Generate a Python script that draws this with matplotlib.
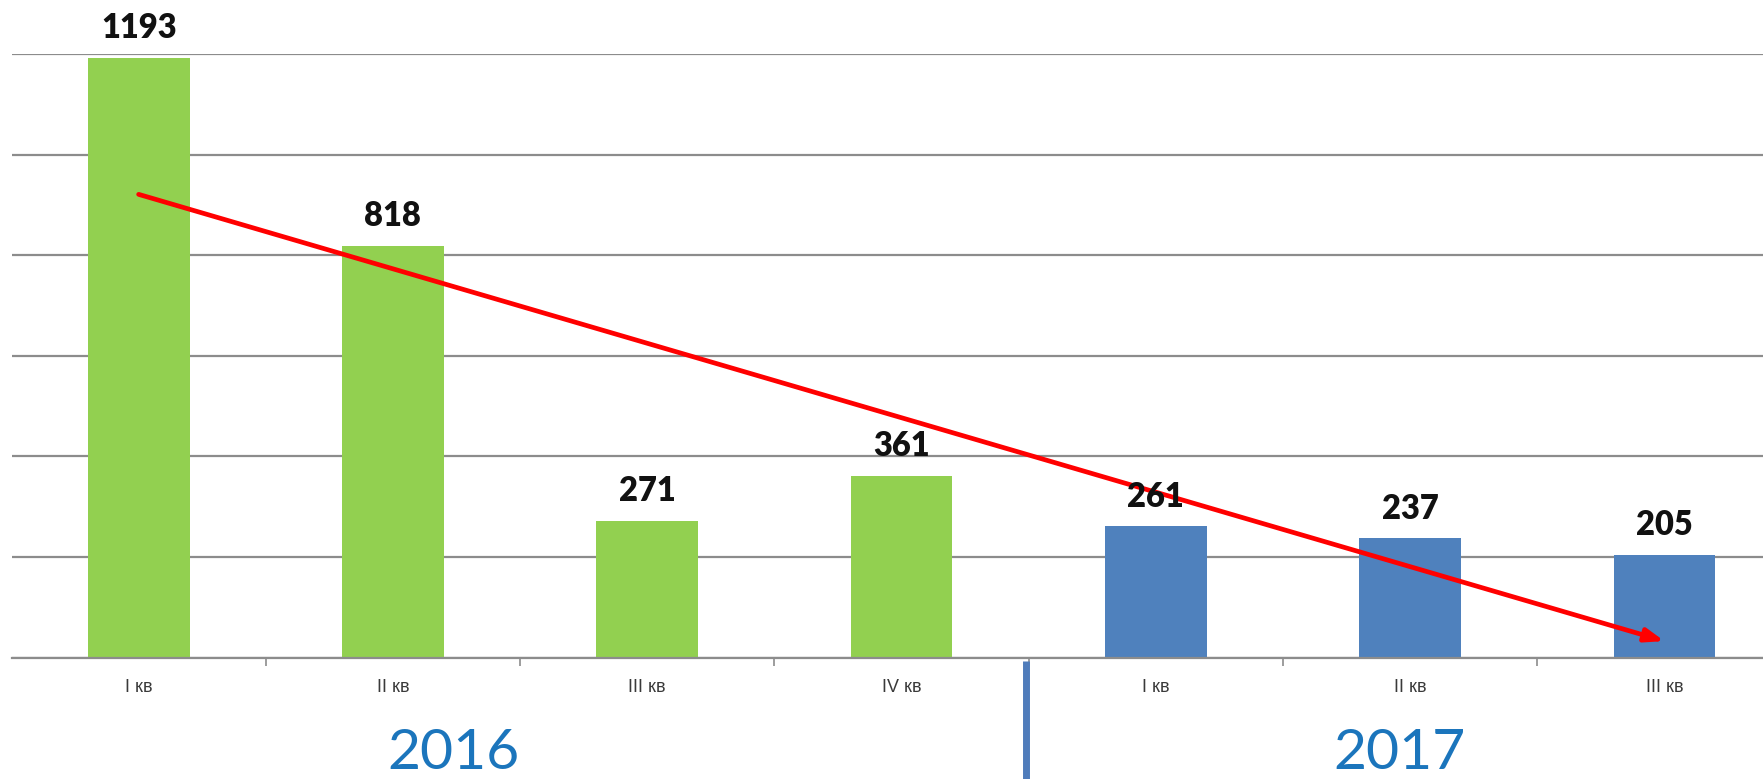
import matplotlib
matplotlib.use("Agg")
import matplotlib.pyplot as plt
import matplotlib.transforms as mtransforms

# ---- data ----
quarters = ["I кв", "II кв", "III кв", "IV кв", "I кв", "II кв", "III кв"]
values = [1193, 818, 271, 361, 261, 237, 205]
years = ["2016", "2017"]
year_of_bar = [0, 0, 0, 0, 1, 1, 1]
trend_values = [921, 33]          # red trend arrow start / end (value units)
y_ticks = [0, 200, 400, 600, 800, 1000, 1200]

# ---- style ----
bar_colors = {0: "#92D050", 1: "#4F81BD"}
grid_color = "#8C8C8C"
year_color = "#1B75BC"

fig = plt.figure(figsize=(17.63, 7.79), dpi=100)
ax = fig.add_axes([11.5 / 1763, 121.3 / 779, 1780 / 1763, 603.7 / 779])

x = list(range(len(values)))
colors = [bar_colors[y] for y in year_of_bar]
bars = ax.bar(x, values, width=0.40, color=colors, zorder=2)

ax.set_xlim(-0.5, len(values) - 0.5)
ax.set_ylim(0, 1200)
ax.set_yticks(y_ticks)
ax.tick_params(axis="y", left=False, labelleft=False)
ax.yaxis.grid(True, color=grid_color, linewidth=1.6, zorder=0)
ax.set_axisbelow(True)
for s in ["left", "right", "top"]:
    ax.spines[s].set_visible(False)
ax.spines["bottom"].set_color(grid_color)
ax.spines["bottom"].set_linewidth(1.6)

ax.set_xticks(x)
ax.set_xticklabels(quarters, family=["Liberation Sans Narrow", "Liberation Sans", "DejaVu Sans"],
                   fontsize=13, color="#3A3A3A")
ax.tick_params(axis="x", which="major", length=0, pad=15.5)
ax.set_xticks([i + 0.5 for i in range(len(values) - 1)], minor=True)
ax.tick_params(axis="x", which="minor", length=6, width=1.2, color=grid_color)

# value labels
for xi, v in zip(x, values):
    ax.annotate(str(v), (xi, v), xytext=(0, 10), textcoords="offset points",
                ha="center", va="bottom", fontsize=23.5, fontweight="heavy",
                family=["Lato", "DejaVu Sans"], color="#111111", zorder=5)

# red trend arrow
ax.annotate("", xy=(x[-1], trend_values[1]), xytext=(x[0], trend_values[0]),
            arrowprops=dict(arrowstyle="-|>,head_length=1.1,head_width=0.4",
                            color="#FF0000", lw=3.4, shrinkA=0, shrinkB=0),
            zorder=4)

# year labels and divider
trans = mtransforms.blended_transform_factory(ax.transData, ax.transAxes)
for xc, yr in zip([1.24, 4.96], years):
    ax.text(xc, -0.158, yr, transform=trans, ha="center", va="center",
            fontsize=41, fontweight="normal", family=["Lato", "DejaVu Sans"],
            color=year_color)
ax.plot([3.49, 3.49], [-0.005, -0.25], transform=trans, color="#4F7CBB",
        linewidth=5, clip_on=False, solid_capstyle="butt")

fig.savefig("out.png", dpi=100, facecolor="white")
